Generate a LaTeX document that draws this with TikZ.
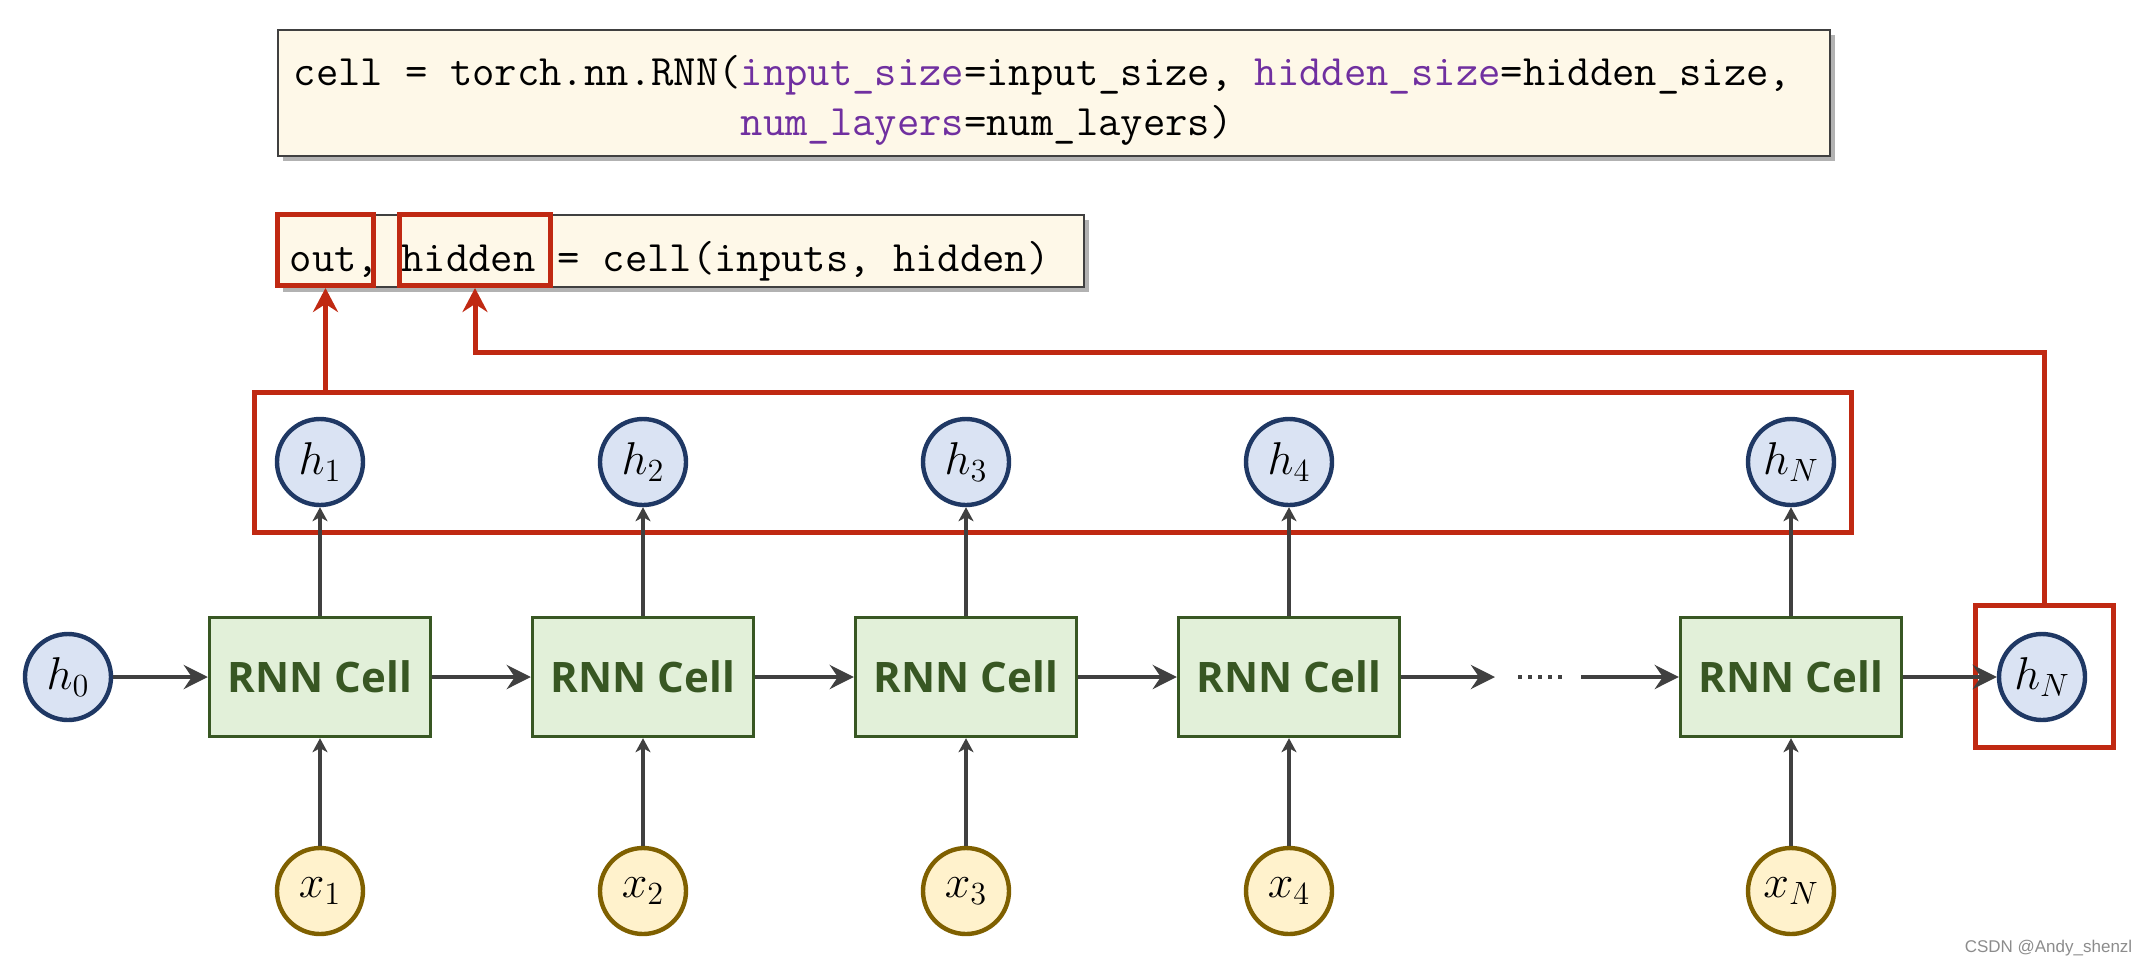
\RequirePackage{fix-cm}
\documentclass[tikz,border=0pt]{standalone}
\usepackage{fontspec}
\usetikzlibrary{arrows.meta,shadows}
\newfontfamily\cellfont{Open Sans}
\newfontfamily\markfont{Liberation Sans}

\definecolor{hfill}{RGB}{218,227,243}
\definecolor{hdraw}{RGB}{31,56,100}
\definecolor{xfill}{RGB}{255,242,204}
\definecolor{xdraw}{RGB}{127,96,0}
\definecolor{cellfill}{RGB}{226,240,217}
\definecolor{celldraw}{RGB}{56,87,35}
\definecolor{arrowgray}{RGB}{64,64,64}
\definecolor{redline}{RGB}{192,41,18}
\definecolor{codefill}{RGB}{254,248,232}
\definecolor{codedraw}{RGB}{64,64,64}
\definecolor{kwpurple}{RGB}{112,48,160}

\tikzset{every picture/.style={line width=0.75pt}}

\begin{document}
\begin{tikzpicture}[x=0.5pt,y=0.5pt,yscale=-1,xscale=1,
	hnode/.style={circle,draw=hdraw,fill=hfill,line width=2.2pt,minimum size=43pt,inner sep=0pt,font=\fontsize{23}{27}\selectfont},
	xnode/.style={hnode,draw=xdraw,fill=xfill},
	cellbox/.style={draw=celldraw,fill=cellfill,line width=1.7pt,minimum width=110.5pt,minimum height=59.5pt,inner sep=0pt,text=celldraw,font=\cellfont\bfseries\fontsize{21}{25}\selectfont},
	codebox/.style={draw=codedraw,fill=codefill,line width=0.9pt,inner sep=0pt,drop shadow={shadow xshift=2.5pt,shadow yshift=-2.5pt,fill=black,opacity=0.3}},
	codetext/.style={anchor=base west,inner sep=0pt,font=\ttfamily\fontsize{21.7}{25}\selectfont},
	redbox/.style={draw=redline,line width=2.5pt,inner sep=0pt},
	grayarrow/.style={draw=arrowgray,line width=2pt,-{Stealth[length=12pt,width=12pt,inset=4pt]}},
	uparrow/.style={draw=arrowgray,line width=2pt,-{Stealth[length=7pt,width=7.5pt,inset=2pt]}},
	redarrow/.style={draw=redline,line width=2.5pt,-{Stealth[length=12pt,width=12.5pt,inset=4pt]}}
	]
	\path[use as bounding box] (0,0) rectangle (2148,965);
	
	%Code: constructor
	\node[codebox,minimum width=776pt,minimum height=63pt] (cfgbox) at (1054,93) {};
	\node[codetext] (cfgA) at (293,85) {cell = torch.nn.RNN(\textcolor{kwpurple}{input\_size}=input\_size, \textcolor{kwpurple}{hidden\_size}=hidden\_size,};
	\node[codetext] (cfgB) at (293,135) {\phantom{cell = torch.nn.RNN(}\textcolor{kwpurple}{num\_layers}=num\_layers)};
	%Code: call
	\node[codebox,minimum width=403pt,minimum height=36pt] (callbox) at (681,251) {};
	\node[codetext] (callA) at (289,271) {out, hidden = cell(inputs, hidden)};
	\node[redbox,minimum width=48pt,minimum height=35.5pt] (outbox) at (325.5,250) {};
	\node[redbox,minimum width=75.5pt,minimum height=35.5pt] (hidbox) at (475,250) {};
	
	%Shape: output frame
	\node[redbox,minimum width=798.5pt,minimum height=70pt] (hrow) at (1053,462.5) {};
	\node[redbox,minimum width=69pt,minimum height=71pt] (hNbox) at (2044.5,676.5) {};
	
	%Cells
	\node[hnode] (h0) at (68,677) {$h_0$};
	\node[cellbox] (c1) at (320,677) {RNN Cell};
	\node[cellbox] (c2) at (643,677) {RNN Cell};
	\node[cellbox] (c3) at (966,677) {RNN Cell};
	\node[cellbox] (c4) at (1289,677) {RNN Cell};
	\node[cellbox] (c5) at (1791,677) {RNN Cell};
	\node[hnode] (hN) at (2042,677) {$h_N$};
	
	%Outputs
	\node[hnode] (h1) at (320,462) {$h_1$};
	\node[hnode] (h2) at (643,462) {$h_2$};
	\node[hnode] (h3) at (966,462) {$h_3$};
	\node[hnode] (h4) at (1289,462) {$h_4$};
	\node[hnode] (h5) at (1791,462) {$h_N$};
	
	%Inputs
	\node[xnode] (x1) at (320,891) {$x_1$};
	\node[xnode] (x2) at (643,891) {$x_2$};
	\node[xnode] (x3) at (966,891) {$x_3$};
	\node[xnode] (x4) at (1289,891) {$x_4$};
	\node[xnode] (x5) at (1791,891) {$x_N$};
	
	\coordinate (dotsL) at (1495,677);
	\coordinate (dotA) at (1518,677);
	\coordinate (dotB) at (1566,677);
	\coordinate (dotsR) at (1581,677);
	\coordinate (hidbend) at (1200,352);
	
	\draw[grayarrow] (h0) -- (c1);
	\draw[grayarrow] (c1) -- (c2);
	\draw[grayarrow] (c2) -- (c3);
	\draw[grayarrow] (c3) -- (c4);
	\draw[grayarrow] (c4) -- (dotsL);
	\draw[draw=arrowgray,line width=2pt,dash pattern=on 2pt off 3pt] (dotA) -- (dotB);
	\draw[grayarrow] (dotsR) -- (c5);
	\draw[grayarrow] (c5) -- (hN);
	
	\draw[uparrow] (x1) -- (c1);
	\draw[uparrow] (x2) -- (c2);
	\draw[uparrow] (x3) -- (c3);
	\draw[uparrow] (x4) -- (c4);
	\draw[uparrow] (x5) -- (c5);
	\draw[uparrow] (c1) -- (h1);
	\draw[uparrow] (c2) -- (h2);
	\draw[uparrow] (c3) -- (h3);
	\draw[uparrow] (c4) -- (h4);
	\draw[uparrow] (c5) -- (h5);
	
	\draw[redarrow] (outbox.south |- hrow.north) -- (outbox.south);
	\draw[redarrow] (hNbox.north) |- (hidbend) -| (hidbox.south);
	
	\node[anchor=base east,inner sep=0pt,text=black!45,font=\markfont\fontsize{8.5}{10}\selectfont] (mark) at (2133,952) {CSDN @Andy\_shenzl};
	
\end{tikzpicture}
\end{document}
